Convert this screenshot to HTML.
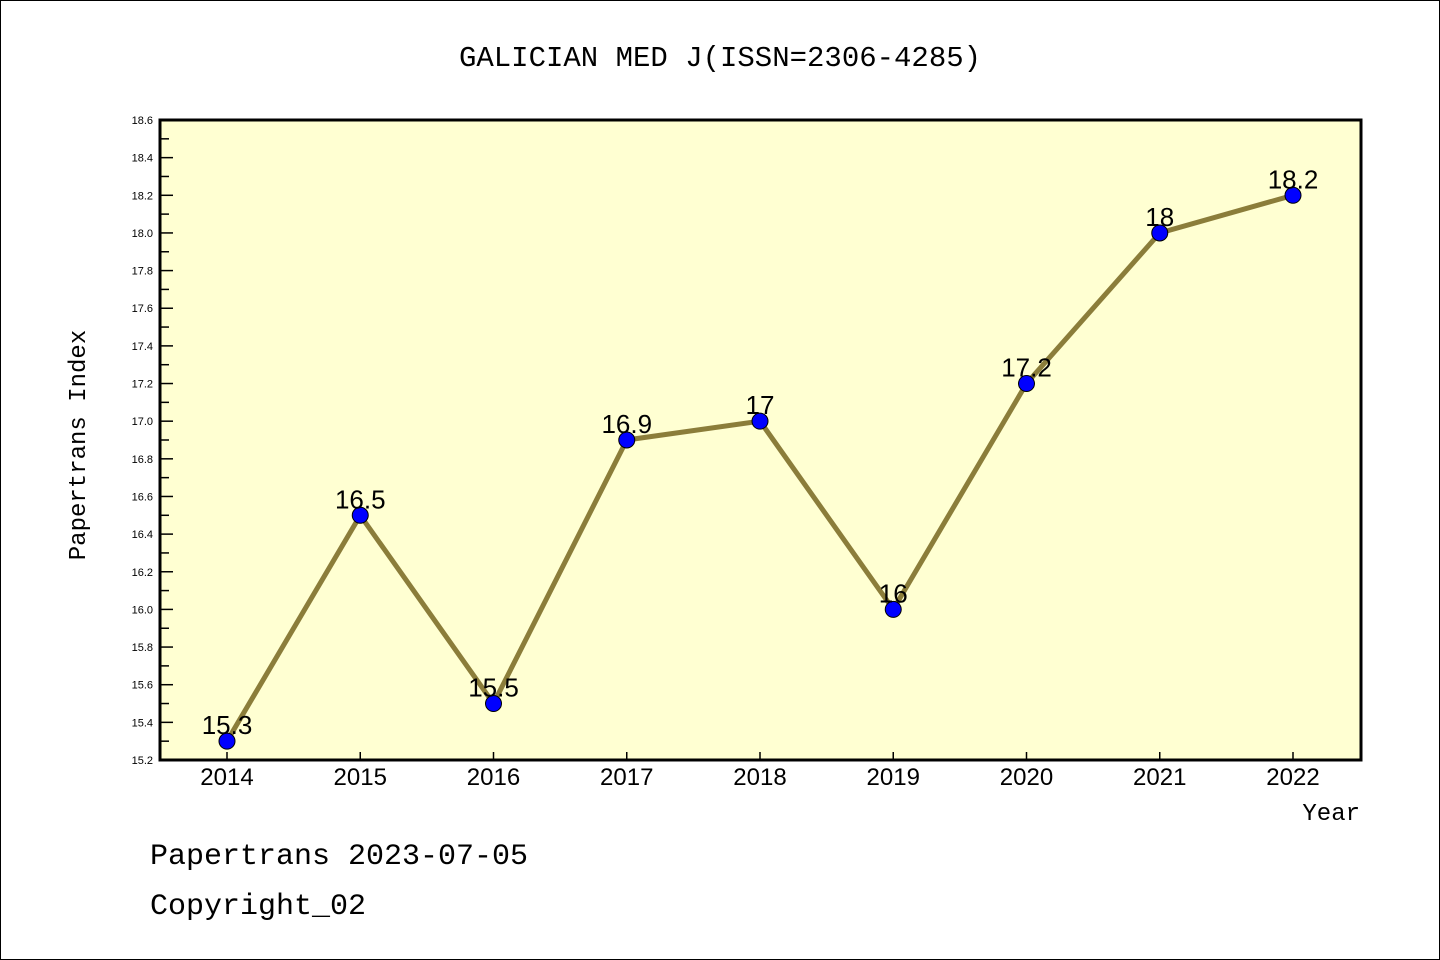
<!DOCTYPE html>
<html><head><meta charset="utf-8"><style>
html,body{margin:0;padding:0;background:#fff;}
svg{display:block;}
</style></head><body>
<svg id="chart" width="1440" height="960" xmlns="http://www.w3.org/2000/svg">
<rect x="0.5" y="0.5" width="1439" height="959" fill="#fff" stroke="#000" stroke-width="1"/>
<text x="720" y="66" text-anchor="middle" font-family="Liberation Mono, monospace" font-size="29">GALICIAN MED J(ISSN=2306-4285)</text>
<rect x="160" y="120" width="1201" height="640" fill="#ffffd2" stroke="#000" stroke-width="3"/>
<g id="yaxis"></g>
<g id="xaxis"></g>
<g id="series"></g>
<text transform="translate(85,445) rotate(-90)" text-anchor="middle" font-family="Liberation Mono, monospace" font-size="24">Papertrans Index</text>
<text x="1360" y="820" text-anchor="end" font-family="Liberation Mono, monospace" font-size="24">Year</text>
<text x="150" y="864" font-family="Liberation Mono, monospace" font-size="30">Papertrans 2023-07-05</text>
<text x="150" y="914" font-family="Liberation Mono, monospace" font-size="30">Copyright_02</text>
</svg>
<script>
const years = ["2014","2015","2016","2017","2018","2019","2020","2021","2022"];
const values = [15.3,16.5,15.5,16.9,17.0,16.0,17.2,18.0,18.2];
const pointLabels = ["15.3","16.5","15.5","16.9","17","16","17.2","18","18.2"];
const yTicks = ["15.2","15.4","15.6","15.8","16.0","16.2","16.4","16.6","16.8","17.0","17.2","17.4","17.6","17.8","18.0","18.2","18.4","18.6"];
const NS="http://www.w3.org/2000/svg";
const yMin=15.2,yMax=18.6,pTop=120,pBot=760,pLeft=160;
const x0=227,dx=(1293-227)/8;
function yS(v){return pBot-(v-yMin)/(yMax-yMin)*(pBot-pTop);}
function xS(i){return x0+i*dx;}
function mk(t,a,p){const e=document.createElementNS(NS,t);for(const k in a)e.setAttribute(k,a[k]);p.appendChild(e);return e;}
const ya=document.getElementById('yaxis');
yTicks.forEach((t,i)=>{const v=parseFloat(t);const y=yS(v);
 const l=mk('line',{x1:pLeft,x2:pLeft+13,y1:y,y2:y,stroke:'#000','stroke-width':1.5},ya);
 
 
 const tx=mk('text',{x:153,y:y+4,'text-anchor':'end','font-family':'Liberation Sans, sans-serif','font-size':11},ya);
 tx.textContent=t;
 
 
 if(i<yTicks.length-1){const ym=yS(v+0.1);
  const m=mk('line',{x1:pLeft,x2:pLeft+9,y1:ym,y2:ym,stroke:'#000','stroke-width':1.5},ya);
  
  }
});
const xa=document.getElementById('xaxis');
years.forEach((t,i)=>{const x=xS(i);
 const l=mk('line',{x1:x,x2:x,y1:pBot-8,y2:pBot,stroke:'#000','stroke-width':1.5},xa);
 
 
 const tx=mk('text',{x:x,y:785,'text-anchor':'middle','font-family':'Liberation Sans, sans-serif','font-size':24},xa);
 tx.textContent=t;
 
 
});
const s=document.getElementById('series');
const pl=mk('polyline',{points:values.map((v,i)=>xS(i)+','+yS(v)).join(' '),fill:'none',stroke:'#8b7d3a','stroke-width':5},s);


values.forEach((v,i)=>{
 const c=mk('circle',{cx:xS(i),cy:yS(v),r:8,fill:'#0000ff',stroke:'#000','stroke-width':1},s);
 
 
 const tx=mk('text',{x:xS(i),y:yS(v)-7,'text-anchor':'middle','font-family':'Liberation Sans, sans-serif','font-size':26},s);
 tx.textContent=pointLabels[i];
 
 
});
</script>
</body></html>
